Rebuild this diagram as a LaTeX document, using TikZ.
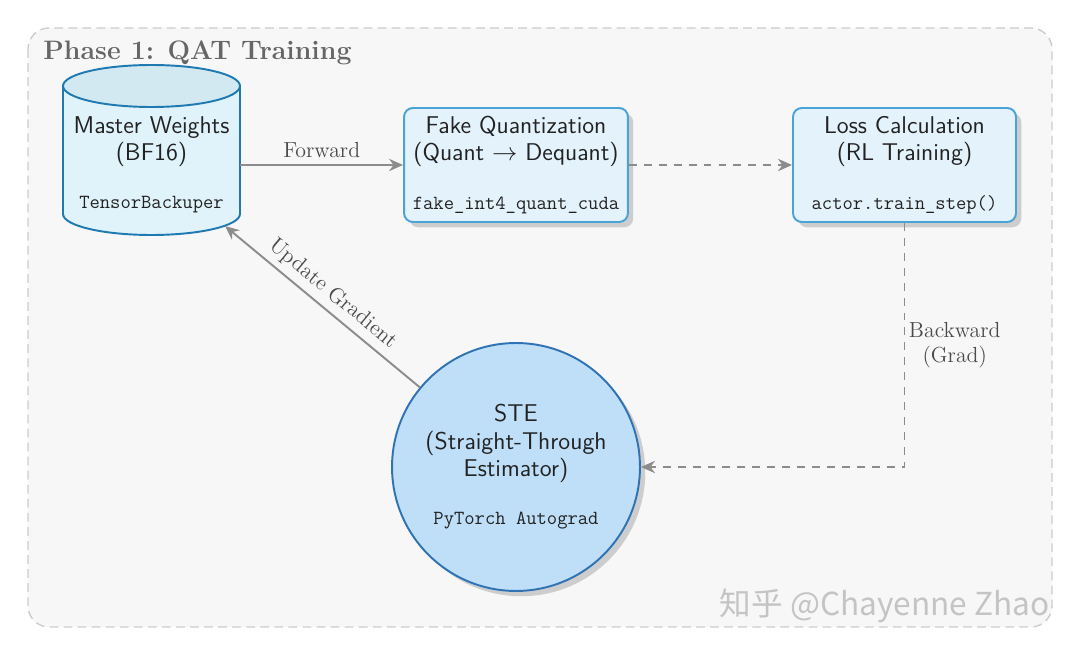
\documentclass[tikz,border=0pt]{standalone}
\usepackage{fontspec}
\newfontfamily\cjkfont{Noto Sans CJK SC}
\usetikzlibrary{arrows.meta,shadows}
\definecolor{bgfill}{HTML}{F7F7F7}
\definecolor{bgline}{HTML}{CCCCCC}
\definecolor{titlecol}{HTML}{666666}
\definecolor{cylbody}{HTML}{E0F3FB}
\definecolor{cyltop}{HTML}{D3E9F2}
\definecolor{cylline}{HTML}{1E7AB0}
\definecolor{boxfill}{HTML}{E4F2FC}
\definecolor{boxline}{HTML}{4AA3D8}
\definecolor{stefill}{HTML}{BEDFF7}
\definecolor{steline}{HTML}{2F73B5}
\definecolor{arrcol}{HTML}{8C8C8C}
\definecolor{txt}{HTML}{222222}
\definecolor{lblcol}{HTML}{4A4A4A}
\definecolor{wmcol}{HTML}{C4C4C4}
\tikzset{
  sanstext/.style={font=\fontsize{13.8}{15.5}\selectfont\sffamily, text=txt, align=center},
  procbox/.style={sanstext, draw=boxline, fill=boxfill, line width=1.1pt, rounded corners=5pt,
    minimum width=4.46cm, minimum height=2.28cm, inner xsep=5pt,
    drop shadow={shadow xshift=3pt, shadow yshift=-3pt, opacity=0.35}},
  stenode/.style={sanstext, circle, draw=steline, fill=stefill, line width=1.1pt,
    minimum size=4.96cm, inner sep=0pt,
    drop shadow={shadow xshift=3pt, shadow yshift=-3pt, opacity=0.35}},
  flow/.style={draw=arrcol, line width=1.1pt, -{Stealth[length=8pt,width=7pt]}},
  dflow/.style={flow, dash pattern=on 4.5pt off 4pt},
  lbl/.style={font=\fontsize{12.4}{14.2}\selectfont, text=lblcol, align=center},
}
\newcommand{\codetxt}[1]{{\ttfamily\fontsize{11.4}{13}\selectfont #1}}
\begin{document}
\begin{tikzpicture}[x=0.02cm, y=-0.02cm]
\useasboundingbox (0,0) rectangle (1080,655);
% frame
\draw[bgline, fill=bgfill, line width=0.8pt, dash pattern=on 5pt off 3pt, rounded corners=12pt]
  (28,28) rectangle (1052,627);
\node[anchor=base west, inner sep=0pt, text=titlecol, font=\fontsize{15.2}{17}\selectfont\bfseries] (title) at (43,60) {Phase 1: QAT Training};
% cylinder
\fill[cylbody] (63,86) -- (63,214) arc[start angle=180, end angle=360, x radius=1.77cm, y radius=0.42cm] -- (240,86) -- cycle;
\draw[cylline, line width=1.1pt] (63,86) -- (63,214) arc[start angle=180, end angle=360, x radius=1.77cm, y radius=0.42cm] -- (240,86);
\filldraw[fill=cyltop, draw=cylline, line width=1.1pt] (151.5,86) ellipse[x radius=1.77cm, y radius=0.42cm];
\node[minimum width=3.54cm, minimum height=3.4cm, inner sep=0pt] (mw) at (151.5,150) {};
\node[sanstext] (mwtext) at (151.5,165) {Master Weights\\(BF16)\\[12pt]\codetxt{TensorBackuper}};
\coordinate (mwend) at (225,226);
% boxes
\node[procbox] (fq) at (516,165) {Fake Quantization\\(Quant $\rightarrow$ Dequant)\\[12pt]\codetxt{fake\_int4\_quant\_cuda}};
\node[procbox] (loss) at (904.5,165) {Loss Calculation\\(RL Training)\\[12pt]\codetxt{actor.train\_step()}};
\node[stenode] (ste) at (516,467) {STE\\(Straight-Through\\Estimator)\\[12pt]\codetxt{PyTorch Autograd}};
% connectors
\draw[flow] (mw.east |- fq.west) -- node[lbl, above] {Forward} (fq.west);
\draw[dflow] (fq) -- (loss);
\draw[dflow] (loss.south) |- node[lbl, pos=0.25, right, inner xsep=2pt] {Backward\\(Grad)} (ste.east);
\draw[flow] (ste) -- node[lbl, midway, sloped, above] {Update Gradient} (mwend);
% watermark
\node[anchor=east, inner sep=0pt, text=wmcol] (wm) at (1050,606) {\cjkfont\fontsize{18}{20}\selectfont 知乎 @Chayenne Zhao};
\end{tikzpicture}
\end{document}
